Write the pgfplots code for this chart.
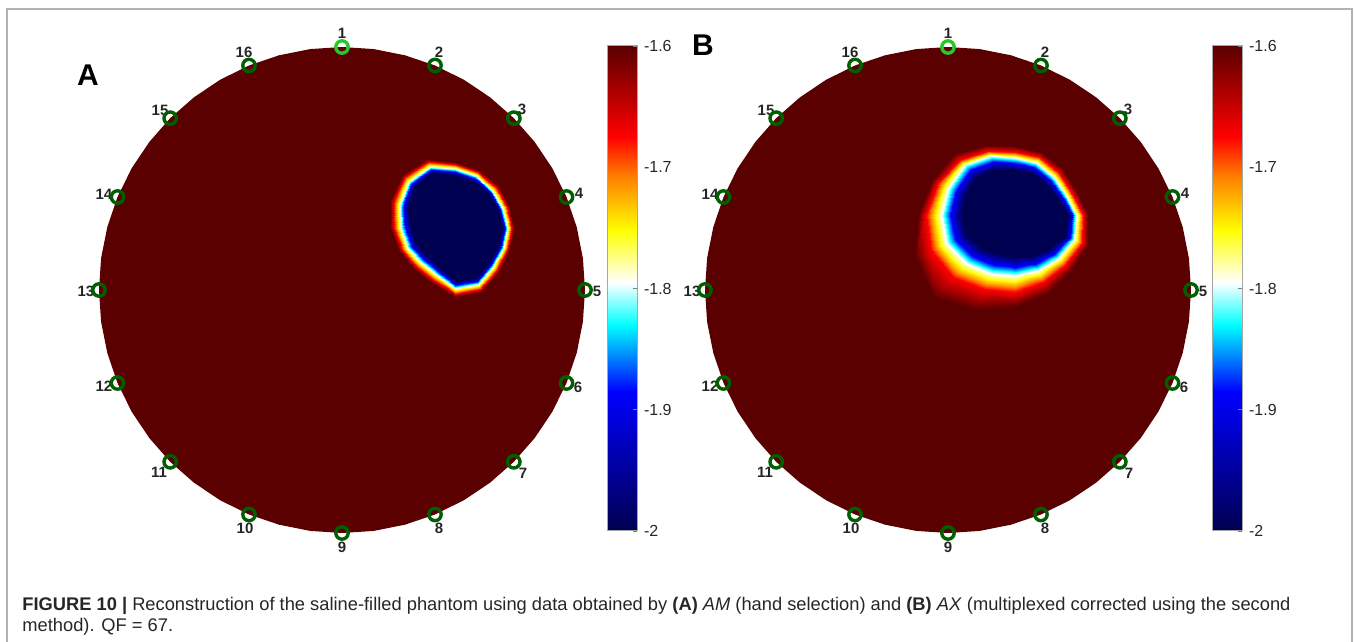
\documentclass[border=0pt]{standalone}
\usepackage{fontspec}
\setmainfont{Liberation Sans}
\usepackage{pgfplots}
\pgfplotsset{compat=1.18}
\usepackage{pgfplotstable}

\definecolor{diskred}{RGB}{90,0,0}
\definecolor{elgreen}{RGB}{0,95,0}
\definecolor{elbright}{RGB}{40,200,40}

\tikzset{elab/.style={font=\fontsize{7.5}{8}\selectfont\bfseries, inner sep=0pt, text=black!85}}
\pgfplotsset{
  colormap={eit}{rgb255(0pt)=(0,0,80) rgb255(115pt)=(0,0,255) rgb255(170pt)=(0,255,255) rgb255(205pt)=(255,255,255) rgb255(248pt)=(255,255,0) rgb255(292pt)=(255,128,0) rgb255(325pt)=(255,0,0) rgb255(400pt)=(90,0,0)},
  panel/.style={anchor=south west, width=303pt, height=321pt, scale only axis,
    xmin=0, xmax=606, ymin=0, ymax=642, y dir=reverse, hide axis, clip=false,
    point meta min=-2, point meta max=-1.6, colormap name=eit},
  cbar/.style={anchor=south west, width=15pt, height=242.5pt, scale only axis,
    xmin=0, xmax=1, ymin=-2, ymax=-1.6, xtick=\empty,
    ytick={-2,-1.9,-1.8,-1.7,-1.6}, yticklabels={-2,-1.9,-1.8,-1.7,-1.6},
    ytick pos=right, yticklabel pos=right, tick align=inside, major tick length=2pt,
    tick style={gray, line width=0.4pt}, axis line style={gray!70, line width=0.5pt},
    yticklabel style={font=\fontsize{8}{9}\selectfont, text=black!85},
    axis on top, point meta min=-2, point meta max=-1.6, colormap name=eit}
}

% phantom boundary (pixel units, y downward)
\pgfplotstableread{
x y
585 290
582.92 258.28
576.72 227.11
566.50 197.01
552.44 168.5
534.78 142.07
513.83 118.17
489.93 97.22
463.5 79.56
434.99 65.5
404.89 55.28
373.72 49.08
342 47
310.28 49.08
279.11 55.28
249.01 65.5
220.5 79.56
194.07 97.22
170.17 118.17
149.22 142.07
131.56 168.5
117.5 197.01
107.28 227.11
101.08 258.28
99 290
101.08 321.72
107.28 352.89
117.5 382.99
131.56 411.5
149.22 437.93
170.17 461.83
194.07 482.78
220.5 500.44
249.01 514.5
279.11 524.72
310.28 530.92
342 533
373.72 530.92
404.89 524.72
434.99 514.5
463.5 500.44
489.93 482.78
513.83 461.83
534.78 437.93
552.44 411.5
566.50 382.99
576.72 352.89
582.92 321.72
585 290
}\disktab

% electrodes 2..16
\pgfplotstableread{
x y
434.99 65.5
513.83 118.17
566.50 197.01
585 290
566.50 382.99
513.83 461.83
434.99 514.5
342 533
249.01 514.5
170.17 461.83
117.5 382.99
99 290
117.5 197.01
170.17 118.17
249.01 65.5
}\eltab

\newcommand{\elabels}{%
\node[elab] at (axis cs:342,33) {1};
\node[elab] at (axis cs:439,52) {2};
\node[elab] at (axis cs:522,109) {3};
\node[elab] at (axis cs:579,193) {4};
\node[elab] at (axis cs:597,291) {5};
\node[elab] at (axis cs:578,387) {6};
\node[elab] at (axis cs:523,473) {7};
\node[elab] at (axis cs:439,528) {8};
\node[elab] at (axis cs:342,547) {9};
\node[elab] at (axis cs:245,528) {10};
\node[elab] at (axis cs:159,472) {11};
\node[elab] at (axis cs:104,386) {12};
\node[elab] at (axis cs:86,291) {13};
\node[elab] at (axis cs:104,194) {14};
\node[elab] at (axis cs:160,110) {15};
\node[elab] at (axis cs:244,52) {16};
}

\newcommand{\electrodes}{%
\addplot[only marks, mark=o, mark size=3.1pt, mark options={draw=elgreen, fill=white, line width=1.7pt}] table {\eltab};
\addplot[only marks, mark=o, mark size=3.1pt, mark options={draw=elbright, fill=white, line width=1.7pt}] coordinates {(342,47)};
}

\begin{document}
\begin{tikzpicture}
\path[use as bounding box] (0,0) rectangle (677pt,321pt);
\draw[gray!60, line width=1pt] (3.5pt,-2pt) -- (3.5pt,316.5pt) -- (676pt,316.5pt) -- (676pt,-2pt);

% ---------- Panel A ----------
\begin{axis}[panel, at={(0pt,0pt)}]
\addplot[draw=none, fill=diskred] table {\disktab};
\addplot[surf, shader=interp, mesh/rows=4, mesh/cols=17, point meta=explicit] table[meta=c] {
x y c
513.5 228.0 -1.6
508.9 205.7 -1.6
497.7 185.3 -1.6
479.3 169.6 -1.6
455.0 162.0 -1.6
426.5 159.4 -1.6
402.3 175.3 -1.6
390.1 201.1 -1.6
390.0 228.0 -1.6
398.6 251.4 -1.6
413.8 269.2 -1.6
432.3 282.8 -1.6
455.0 296.5 -1.6
481.3 291.5 -1.6
498.5 271.5 -1.6
509.3 250.5 -1.6
513.5 228.0 -1.6
506.9 228.0 -1.8
502.4 208.3 -1.8
492.4 190.6 -1.8
476.3 176.5 -1.8
455.0 169.5 -1.8
429.8 167.2 -1.8
408.9 181.9 -1.8
399.6 205.0 -1.8
401.2 228.0 -1.8
408.1 247.5 -1.8
420.7 262.3 -1.8
435.9 274.2 -1.8
455.0 287.6 -1.8
478.1 283.8 -1.8
493.3 266.3 -1.8
502.9 247.9 -1.8
506.9 228.0 -1.8
501.9 228.0 -2
497.9 210.2 -2
488.5 194.5 -2
474.2 181.6 -2
455.0 175.0 -2
432.3 173.3 -2
414.4 187.4 -2
407.7 208.4 -2
410.5 228.0 -2
416.2 244.1 -2
426.5 256.5 -2
438.8 267.1 -2
455.0 281.0 -2
475.8 278.2 -2
489.4 262.4 -2
498.3 246.0 -2
501.9 228.0 -2
455 228 -2
455 228 -2
455 228 -2
455 228 -2
455 228 -2
455 228 -2
455 228 -2
455 228 -2
455 228 -2
455 228 -2
455 228 -2
455 228 -2
455 228 -2
455 228 -2
455 228 -2
455 228 -2
455 228 -2
};
\electrodes
\elabels
\end{axis}

% ---------- Panel B ----------
\begin{axis}[panel, at={(303pt,0pt)}]
\addplot[draw=none, fill=diskred] table {\disktab};
\addplot[surf, shader=interp, mesh/rows=5, mesh/cols=17, point meta=explicit] table[meta=c] {
x y c
481.5 215.0 -1.6
470.0 189.7 -1.6
456.1 167.9 -1.6
435.2 151.8 -1.6
409.0 146.0 -1.6
379.9 144.8 -1.6
348.2 154.2 -1.6
325.8 180.5 -1.6
312.0 215.0 -1.6
309.2 256.4 -1.6
327.0 297.0 -1.6
369.7 309.7 -1.6
409.0 306.7 -1.6
441.5 293.4 -1.6
464.6 270.6 -1.6
482.0 245.3 -1.6
481.5 215.0 -1.6
476.5 215.0 -1.675
465.4 191.6 -1.675
451.8 172.2 -1.675
432.9 157.3 -1.675
409.0 152.0 -1.675
382.4 150.7 -1.675
353.7 159.7 -1.675
331.9 183.1 -1.675
319.5 215.0 -1.675
324.6 250.0 -1.675
346.6 277.4 -1.675
378.2 289.4 -1.675
409.0 291.7 -1.675
436.9 282.3 -1.675
459.0 265.0 -1.675
475.5 242.6 -1.675
476.5 215.0 -1.675
469.5 215.0 -1.8
458.9 194.3 -1.8
446.9 177.1 -1.8
430.4 163.4 -1.8
409.0 158.0 -1.8
384.6 156.2 -1.8
359.4 165.4 -1.8
343.0 187.7 -1.8
335.5 215.0 -1.8
341.3 243.1 -1.8
360.8 263.2 -1.8
385.1 272.8 -1.8
409.0 274.7 -1.8
431.9 270.3 -1.8
451.9 257.9 -1.8
468.1 239.5 -1.8
469.5 215.0 -1.8
461.5 215.0 -2
450.6 197.8 -2
439.8 184.2 -2
426.2 173.5 -2
409.0 170.0 -2
390.0 169.2 -2
370.7 176.7 -2
359.7 194.5 -2
355.5 215.0 -2
360.7 235.0 -2
376.3 247.7 -2
392.7 254.3 -2
409.0 256.7 -2
426.2 256.4 -2
443.4 249.4 -2
458.9 235.7 -2
461.5 215.0 -2
409 215 -2
409 215 -2
409 215 -2
409 215 -2
409 215 -2
409 215 -2
409 215 -2
409 215 -2
409 215 -2
409 215 -2
409 215 -2
409 215 -2
409 215 -2
409 215 -2
409 215 -2
409 215 -2
409 215 -2
};
\electrodes
\elabels
\end{axis}

% ---------- Colour bars ----------
\begin{axis}[cbar, at={(303.5pt,55.5pt)}]
\addplot[surf, shader=interp, mesh/rows=2, mesh/cols=2, point meta=explicit] table[meta=c] {
x y c
0 -2 -2
1 -2 -2
0 -1.6 -1.6
1 -1.6 -1.6
};
\end{axis}
\begin{axis}[cbar, at={(606pt,55.5pt)}]
\addplot[surf, shader=interp, mesh/rows=2, mesh/cols=2, point meta=explicit] table[meta=c] {
x y c
0 -2 -2
1 -2 -2
0 -1.6 -1.6
1 -1.6 -1.6
};
\end{axis}

% ---------- Panel letters ----------
\node[font=\fontsize{15}{16}\selectfont\bfseries, inner sep=0pt] at (44pt,283.5pt) {A};
\node[font=\fontsize{15}{16}\selectfont\bfseries, inner sep=0pt] at (351.5pt,298.5pt) {B};

% ---------- Caption ----------
\node[anchor=base west, inner sep=0pt, font=\fontsize{9.15}{11}\selectfont, text=black!85] at (11pt,15.5pt)
  {\textbf{FIGURE 10} {\textbf{|}} Reconstruction of the saline-filled phantom using data obtained by \textbf{(A)} \textit{AM} (hand selection) and \textbf{(B)} \textit{AX} (multiplexed corrected using the second};
\node[anchor=base west, inner sep=0pt, font=\fontsize{9.15}{11}\selectfont, text=black!85] at (11pt,5pt)
  {method). QF = 67.};
\end{tikzpicture}
\end{document}
